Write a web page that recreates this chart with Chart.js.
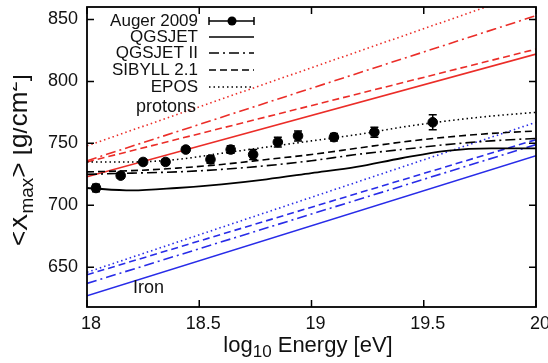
<!DOCTYPE html>
<html>
<head>
<meta charset="utf-8">
<script src="https://cdn.jsdelivr.net/npm/chart.js@4.4.0/dist/chart.umd.min.js"></script>
<style>
  html, body { margin: 0; padding: 0; background: #fff; }
  canvas { display: block; }
</style>
</head>
<body>
<canvas id="chart" width="548" height="363"></canvas>
<script>
// Auger 2009 <Xmax> measurements
const augerE = [18.04, 18.15, 18.25, 18.35, 18.44, 18.55, 18.64, 18.74, 18.85, 18.94, 19.10, 19.28, 19.54];
const augerXmax = [714, 724, 735, 735, 745, 737, 745, 741, 751, 756, 755, 759, 767];
const augerErr = [3, 2, 2, 2, 2, 3, 3, 4, 4, 4, 3, 4, 6];

// model curves (black)
const modelE = [18.0, 18.2, 18.4, 18.6, 18.8, 19.0, 19.2, 19.4, 19.6, 19.8, 20.0];
const qgsjetMix = [714, 712, 714, 717, 721, 726, 731, 738, 744, 746, 746];
const qgsjet2Mix = [725, 726, 727, 729, 732, 736, 741, 745, 749, 752, 754];
const sibyllMix = [727, 728, 730, 733, 737, 741, 746, 751, 755, 758, 760];
const eposMix = [735, 735, 737, 742, 747, 752, 757, 763, 768, 772, 775];

// pure protons (red) and iron (blue), values at 18 and 20
const lineE = [18, 20];
const qgsjetP = [723, 822];
const qgsjet2P = [736, 853];
const sibyllP = [735, 826];
const eposP = [748, 874];
const qgsjetFe = [627, 740];
const qgsjet2Fe = [637, 749];
const sibyllFe = [644, 753];
const eposFe = [646, 767];

const xTicks = [18, 18.5, 19, 19.5, 20];
const yTicks = [650, 700, 750, 800, 850];

const RED = "rgb(235,45,40)";
const BLUE = "rgb(40,44,232)";
const INK = "#111";
const DASH = [7, 4];
const DASHDOT = [10, 4, 2, 4];
const DOT = [1.5, 3];
const FONT = "'Liberation Sans', Arial, sans-serif";

function curve(label, xs, ys, color, dash, width) {
  return {
    label,
    data: xs.map((v, i) => ({ x: v, y: ys[i] })),
    showLine: true,
    borderColor: color,
    borderWidth: width,
    borderDash: dash,
    pointRadius: 0,
    fill: false,
    cubicInterpolationMode: "monotone",
  };
}

// draws text pieces along a baseline, pieces: [text, sizePx, shiftUp]
function drawPieces(ctx, pieces, x, y) {
  let cx = x;
  for (const [t, size, shift] of pieces) {
    ctx.font = size + "px " + FONT;
    ctx.fillText(t, cx, y - shift);
    cx += ctx.measureText(t).width;
  }
}
function piecesWidth(ctx, pieces) {
  let w = 0;
  for (const [t, size] of pieces) {
    ctx.font = size + "px " + FONT;
    w += ctx.measureText(t).width;
  }
  return w;
}

const decorations = {
  id: "decorations",
  afterDatasetsDraw(chart) {
    const { ctx, scales: { x, y } } = chart;
    ctx.save();
    ctx.strokeStyle = "#000";
    ctx.lineWidth = 1.5;
    augerE.forEach((e, i) => {
      const px = x.getPixelForValue(e);
      const top = y.getPixelForValue(augerXmax[i] + augerErr[i]);
      const bot = y.getPixelForValue(augerXmax[i] - augerErr[i]);
      ctx.beginPath();
      ctx.moveTo(px, top); ctx.lineTo(px, bot);
      ctx.moveTo(px - 4, top); ctx.lineTo(px + 4, top);
      ctx.moveTo(px - 4, bot); ctx.lineTo(px + 4, bot);
      ctx.stroke();
    });
    ctx.restore();
  },
  afterDraw(chart) {
    const { ctx, chartArea: a, scales: { x, y } } = chart;
    ctx.save();
    // frame with inward ticks on all sides
    ctx.strokeStyle = "#000";
    ctx.lineWidth = 1.8;
    ctx.strokeRect(a.left, a.top, a.right - a.left, a.bottom - a.top);
    ctx.lineWidth = 1.5;
    ctx.beginPath();
    xTicks.forEach((v) => {
      const px = x.getPixelForValue(v);
      ctx.moveTo(px, a.bottom); ctx.lineTo(px, a.bottom - 7);
      ctx.moveTo(px, a.top); ctx.lineTo(px, a.top + 7);
    });
    yTicks.forEach((v) => {
      const py = y.getPixelForValue(v);
      ctx.moveTo(a.left, py); ctx.lineTo(a.left + 7, py);
      ctx.moveTo(a.right, py); ctx.lineTo(a.right - 7, py);
    });
    ctx.stroke();

    ctx.fillStyle = INK;
    ctx.textBaseline = "alphabetic";
    ctx.textAlign = "left";

    // x title
    const xt = [["log", 22, 0], ["10", 17, -5], [" Energy [eV]", 22, 0]];
    const xw = piecesWidth(ctx, xt);
    drawPieces(ctx, xt, 308 - xw / 2, 352);

    // y title, rotated and mostly cut by the left edge
    ctx.save();
    ctx.beginPath();
    ctx.rect(13, 0, 60, 363);
    ctx.clip();
    ctx.translate(27, 160);
    ctx.rotate(-Math.PI / 2);
    const yt = [["<X", 26, 0], ["max", 19, -6], ["> [g/cm", 26, 0], ["2", 19, 10], ["]", 26, 0]];
    const yw = piecesWidth(ctx, yt);
    drawPieces(ctx, yt, -yw / 2, 0);
    ctx.restore();

    // legend
    const rows = [
      ["Auger 2009", null, 21],
      ["QGSJET", [], 37],
      ["QGSJET II", DASHDOT, 53],
      ["SIBYLL 2.1", DASH, 70],
      ["EPOS", DOT, 87],
    ];
    ctx.font = "17px " + FONT;
    ctx.textAlign = "right";
    ctx.textBaseline = "middle";
    rows.forEach(([label, dash, ry]) => {
      ctx.fillStyle = INK;
      ctx.fillText(label, 198, ry);
      ctx.strokeStyle = "#000";
      ctx.lineWidth = 1.5;
      ctx.beginPath();
      if (dash === null) {
        ctx.setLineDash([]);
        ctx.moveTo(209, ry); ctx.lineTo(254, ry);
        ctx.moveTo(209, ry - 4); ctx.lineTo(209, ry + 4);
        ctx.moveTo(254, ry - 4); ctx.lineTo(254, ry + 4);
        ctx.stroke();
        ctx.beginPath();
        ctx.fillStyle = "#000";
        ctx.arc(232, ry, 4.5, 0, Math.PI * 2);
        ctx.fill();
      } else {
        ctx.setLineDash(dash);
        ctx.moveTo(209, ry); ctx.lineTo(254, ry);
        ctx.stroke();
      }
    });
    ctx.setLineDash([]);
    ctx.fillStyle = INK;
    ctx.font = "18px " + FONT;
    ctx.fillText("protons", 196, 107);
    ctx.textAlign = "left";
    ctx.fillText("Iron", 133, 288);
    ctx.restore();
  },
};

const datasets = [
  {
    label: "Auger 2009",
    data: augerE.map((e, i) => ({ x: e, y: augerXmax[i] })),
    showLine: false,
    pointRadius: 4.8,
    pointBackgroundColor: "#000",
    pointBorderColor: "#000",
  },
  curve("QGSJET", modelE, qgsjetMix, "#000", [], 1.8),
  curve("QGSJET II", modelE, qgsjet2Mix, "#000", DASHDOT, 1.6),
  curve("SIBYLL 2.1", modelE, sibyllMix, "#000", DASH, 1.6),
  curve("EPOS", modelE, eposMix, "#000", DOT, 1.6),
  curve("QGSJET p", lineE, qgsjetP, RED, [], 1.6),
  curve("QGSJET II p", lineE, qgsjet2P, RED, DASHDOT, 1.6),
  curve("SIBYLL 2.1 p", lineE, sibyllP, RED, DASH, 1.6),
  curve("EPOS p", lineE, eposP, RED, DOT, 1.6),
  curve("QGSJET Fe", lineE, qgsjetFe, BLUE, [], 1.6),
  curve("QGSJET II Fe", lineE, qgsjet2Fe, BLUE, DASHDOT, 1.6),
  curve("SIBYLL 2.1 Fe", lineE, sibyllFe, BLUE, DASH, 1.6),
  curve("EPOS Fe", lineE, eposFe, BLUE, DOT, 1.6),
];

const tickFont = { family: FONT, size: 18 };

new Chart(document.getElementById("chart"), {
  type: "scatter",
  data: { datasets },
  options: {
    responsive: false,
    animation: false,
    layout: { padding: { top: 7, right: 12, left: 0, bottom: 0 } },
    plugins: { legend: { display: false }, tooltip: { enabled: false } },
    scales: {
      x: {
        type: "linear",
        min: 18,
        max: 20,
        afterBuildTicks: (s) => { s.ticks = xTicks.map((v) => ({ value: v })); },
        afterFit: (s) => { s.height = 56; s.paddingLeft = 0; s.paddingRight = 0; },
        ticks: { font: tickFont, color: INK, padding: 6, labelOffset: 4, callback: (v) => String(v) },
        grid: { drawOnChartArea: false, drawTicks: false },
        border: { display: false },
      },
      y: {
        type: "linear",
        min: 618,
        max: 860,
        afterBuildTicks: (s) => { s.ticks = yTicks.map((v) => ({ value: v })); },
        afterFit: (s) => { s.width = 87; s.paddingTop = 0; s.paddingBottom = 0; },
        ticks: { font: tickFont, color: INK, padding: 9, callback: (v) => String(v) },
        grid: { drawOnChartArea: false, drawTicks: false },
        border: { display: false },
      },
    },
  },
  plugins: [decorations],
});
</script>
</body>
</html>
